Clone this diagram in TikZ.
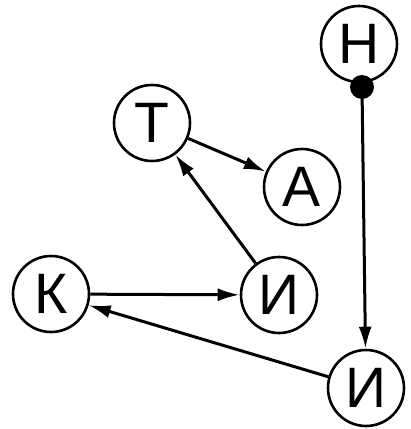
\documentclass[tikz,border=0pt]{standalone}
\usepackage{fontspec}
\setmainfont{Liberation Sans}
\usetikzlibrary{arrows.meta}
\begin{document}
\begin{tikzpicture}[x=1pt,y=-1pt,
  vtx/.style={circle,draw,line width=2.6pt,minimum size=76pt,inner sep=0pt,font=\fontsize{57}{57}\selectfont},
  arr/.style={line width=3pt,-{Latex[length=22pt,width=13pt]}},
  dotc/.style={circle,fill,inner sep=0pt,minimum size=24pt}]
\useasboundingbox (0,0) rectangle (411,429);
\node[vtx] (H) at (359,44) {Н};
\node[vtx] (T) at (152,123) {Т};
\node[vtx] (A) at (302,187) {А};
\node[vtx] (K) at (51,294) {К};
\node[vtx] (I1) at (279,295) {И};
\node[vtx] (I2) at (366,388) {И};
\node[dotc] (D) at (362,87) {};
\draw[arr] (T) -- (A);
\draw[arr] (I1) -- (T);
\draw[arr] (K) -- (I1);
\draw[arr] (I2) -- (K);
\draw[arr] (D.center) -- (I2);
\end{tikzpicture}
\end{document}
